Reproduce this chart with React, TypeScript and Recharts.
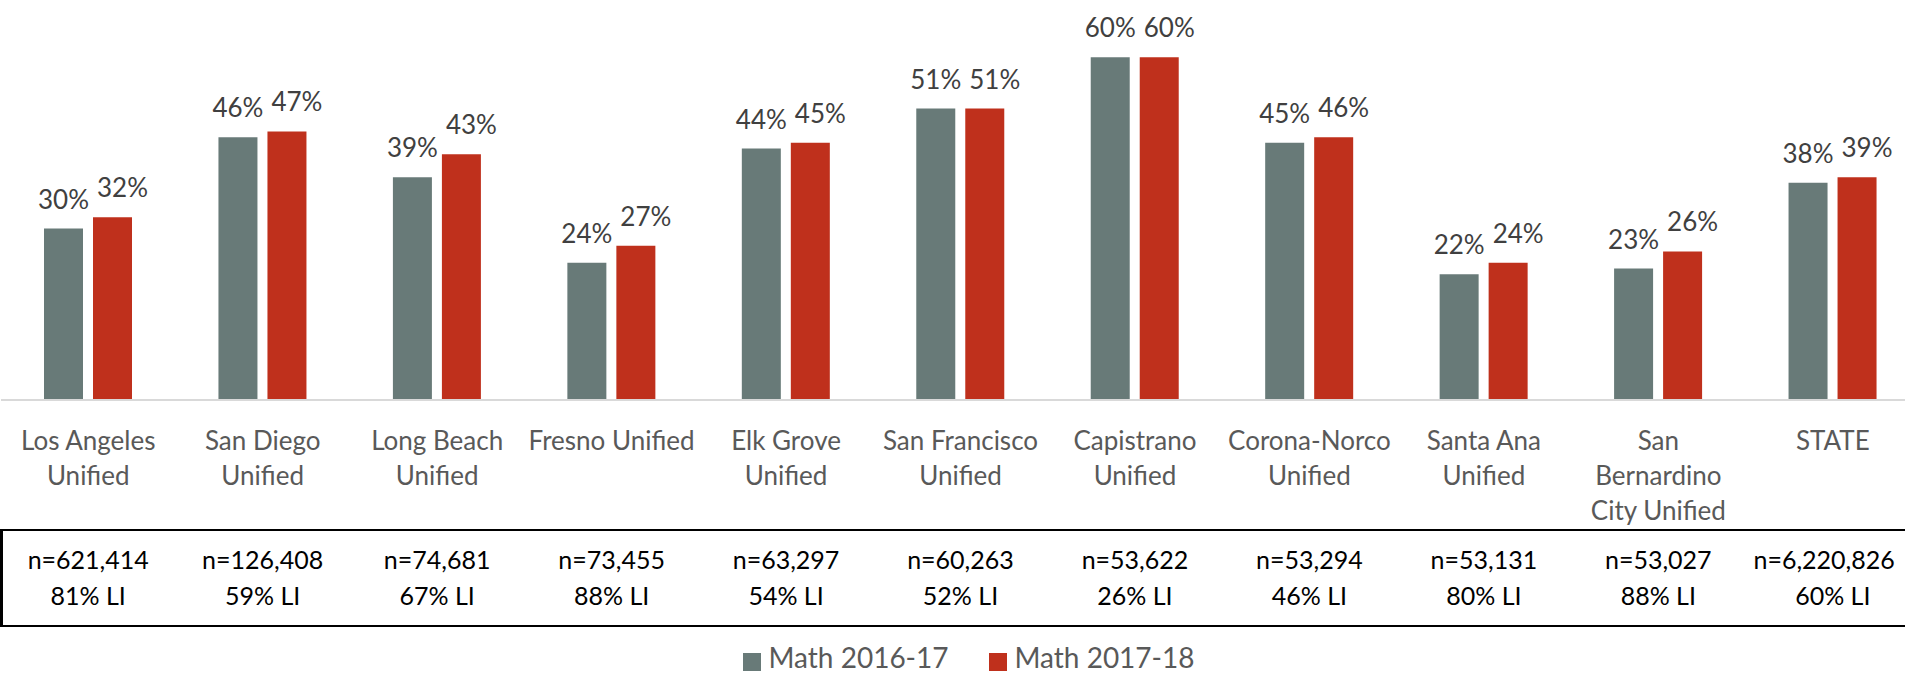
import { BarChart, Bar, XAxis, YAxis, Legend } from 'recharts'

const categories = [
  'Los Angeles\nUnified',
  'San Diego\nUnified',
  'Long Beach\nUnified',
  'Fresno Unified',
  'Elk Grove\nUnified',
  'San Francisco\nUnified',
  'Capistrano\nUnified',
  'Corona-Norco\nUnified',
  'Santa Ana\nUnified',
  'San\nBernardino\nCity Unified',
  'STATE',
]
const math1617 = [0.3, 0.46, 0.39, 0.24, 0.44, 0.51, 0.6, 0.45, 0.22, 0.23, 0.38]
const math1718 = [0.32, 0.47, 0.43, 0.27, 0.45, 0.51, 0.6, 0.46, 0.24, 0.26, 0.39]
const enrollment = [
  'n=621,414', 'n=126,408', 'n=74,681', 'n=73,455', 'n=63,297', 'n=60,263',
  'n=53,622', 'n=53,294', 'n=53,131', 'n=53,027', 'n=6,220,826',
]
const lowIncome = [
  '81% LI', '59% LI', '67% LI', '88% LI', '54% LI', '52% LI',
  '26% LI', '46% LI', '80% LI', '88% LI', '60% LI',
]

const data = categories.map((name, i) => ({
  name,
  m1617: math1617[i],
  m1718: math1718[i],
}))

const FONT = 'Lato, "Open Sans", sans-serif'
const GRAY = '#687a78'
const RED = '#bf301c'

function CategoryTick(props: any) {
  const { x, y, index, payload } = props
  const lines = String(payload.value).split('\n')
  // last column sits against the right edge, so its table text is pulled in
  const last = index === categories.length - 1
  return (
    <g fontFamily={FONT}>
      {lines.map((line, i) => (
        <text key={i} x={x} y={y + 48 + i * 35} textAnchor="middle" fontSize={26} fill="#595959">
          {line}
        </text>
      ))}
      <text
        x={last ? x + 62 : x}
        y={y + 167}
        textAnchor={last ? 'end' : 'middle'}
        fontSize={25}
        fill="#000"
      >
        {enrollment[index]}
      </text>
      <text x={x} y={y + 203} textAnchor="middle" fontSize={25} fill="#000">
        {lowIncome[index]}
      </text>
    </g>
  )
}

const pct = (v: number) => `${Math.round(v * 100)}%`

function makeLabel(dx: number) {
  return (props: any) => {
    const { x, y, width, value } = props
    return (
      <text
        x={x + width / 2 + dx}
        y={y - 20}
        textAnchor="middle"
        fontFamily={FONT}
        fontSize={26}
        fill="#404040"
      >
        {pct(value)}
      </text>
    )
  }
}

function LegendContent(props: any) {
  const items = props.payload || []
  return (
    <div
      style={{
        height: 48,
        boxSizing: 'border-box',
        paddingTop: 24,
        paddingLeft: 16,
        display: 'flex',
        justifyContent: 'center',
        alignItems: 'center',
        gap: 40,
        fontFamily: FONT,
      }}
    >
      {items.map((it: any) => (
        <div key={it.value} style={{ display: 'flex', alignItems: 'center', gap: 8 }}>
          <span style={{ width: 18, height: 18, background: it.color, display: 'inline-block' }} />
          <span style={{ fontSize: 28, color: '#595959', lineHeight: '18px', position: 'relative', top: -5 }}>
            {it.value}
          </span>
        </div>
      ))}
    </div>
  )
}

export default function App() {
  return (
    <>
      <style>{'body { margin: 0; overflow: hidden; }'}</style>
      <div style={{ position: 'relative', width: 1905, height: 674, overflow: 'hidden', background: '#fff' }}>
        <BarChart
          width={1920}
          height={674}
          data={data}
          margin={{ top: 0, right: 0, bottom: 0, left: 1 }}
          barGap={10}
          barSize={39}
        >
          <XAxis
            dataKey="name"
            interval={0}
            height={226}
            tickLine={false}
            tickSize={0}
            axisLine={{ stroke: '#d9d9d9', strokeWidth: 2 }}
            tick={<CategoryTick />}
          />
          <YAxis hide domain={[0, 0.7]} />
          <Legend verticalAlign="bottom" height={48} content={<LegendContent />} />
          <Bar dataKey="m1617" name="Math 2016-17" fill={GRAY} isAnimationActive={false} label={makeLabel(0)} />
          <Bar dataKey="m1718" name="Math 2017-18" fill={RED} isAnimationActive={false} label={makeLabel(10)} />
        </BarChart>
        <div
          style={{
            position: 'absolute',
            left: 0,
            top: 529,
            width: 1920,
            height: 98,
            boxSizing: 'border-box',
            borderTop: '2px solid #000',
            borderBottom: '2px solid #000',
            borderLeft: '3px solid #000',
            pointerEvents: 'none',
          }}
        />
      </div>
    </>
  )
}
